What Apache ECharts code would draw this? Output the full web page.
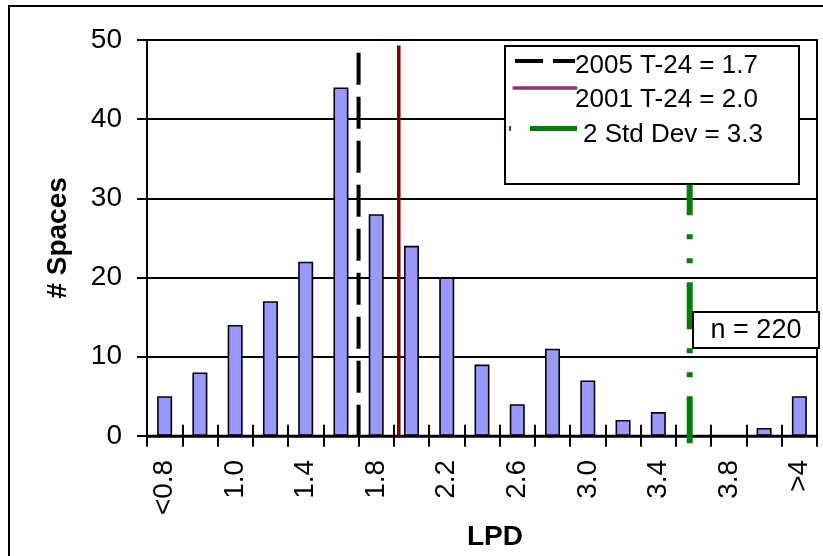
<!DOCTYPE html>
<html>
<head>
<meta charset="utf-8">
<script src="https://cdn.jsdelivr.net/npm/echarts@6/dist/echarts.min.js"></script>
<style>html,body{margin:0;padding:0;background:#fff;}#c{width:823px;height:556px;}</style>
</head>
<body>
<div id="c"></div>
<script>
// ---- data ----
const categories = ['<0.8','0.8','1.0','1.2','1.4','1.6','1.8','2.0','2.2','2.4','2.6','2.8','3.0','3.2','3.4','3.6','3.8','4.0','>4'];
const counts = [5, 8, 14, 17, 22, 44, 28, 24, 20, 9, 4, 11, 7, 2, 3, 0, 0, 1, 5];
const refNames = ['2005 T-24 = 1.7', '2001 T-24 = 2.0', '2 Std Dev = 3.3'];
// reference line positions in category-index units, with their vertical extents
const refPositions = [5.5, 6.64, 14.89];
const refStarts = [48.4, 49.3, -0.95];
const refEnds = [0, -0.1, 46];
const sampleSize = 'n = 220';

const FONT = 'Liberation Sans, Arial, sans-serif';
const chart = echarts.init(document.getElementById('c'), null, {renderer: 'canvas'});

const refStyles = [
  {color: '#000000', width: 4, type: [32, 12]},
  {color: '#800000', width: 3.5, type: 'solid'},
  {color: '#008000', width: 6, type: [47, 19, 5, 19, 5, 19]}
];

const lineSeries = refNames.map((n, i) => ({
  type: 'line',
  name: n,
  xAxisIndex: 2,
  yAxisIndex: 0,
  data: [[refPositions[i], refStarts[i]], [refPositions[i], refEnds[i]]],
  symbol: 'none',
  clip: false,
  silent: true,
  z: 5,
  lineStyle: refStyles[i]
}));

const option = {
  backgroundColor: '#ffffff',
  animation: false,
  textStyle: {fontFamily: FONT},
  grid: {left: 147, right: 6, top: 40, bottom: 120, show: true, borderColor: '#000', borderWidth: 2, backgroundColor: 'transparent'},
  xAxis: [
    {
      type: 'category', data: categories, position: 'bottom',
      axisLine: {show: true, onZero: false, lineStyle: {color: '#000', width: 2.5}},
      axisTick: {show: true, interval: 0, length: 11, lineStyle: {color: '#000', width: 2}},
      axisLabel: {interval: 1, rotate: 90, margin: 24, fontSize: 28, color: '#000', fontFamily: FONT},
      splitLine: {show: false},
      name: 'LPD', nameLocation: 'middle', nameGap: 77,
      nameTextStyle: {fontSize: 28, fontWeight: 'bold', color: '#000', fontFamily: FONT, padding: [0, 0, 0, 26]}
    },
    {
      type: 'category', data: categories, position: 'bottom',
      axisLine: {show: false, onZero: false},
      axisTick: {show: true, inside: true, interval: 0, length: 11, lineStyle: {color: '#000', width: 2}},
      axisLabel: {show: false},
      splitLine: {show: false}
    },
    {type: 'value', min: -0.5, max: 18.5, show: false}
  ],
  yAxis: {
    type: 'value', min: 0, max: 50, interval: 10,
    axisLine: {show: true, onZero: false, lineStyle: {color: '#000', width: 2}},
    axisTick: {show: true, length: 10, lineStyle: {color: '#000', width: 2}},
    axisLabel: {fontSize: 28, color: '#000', margin: 25, fontFamily: FONT},
    splitLine: {show: true, lineStyle: {color: '#000', width: 1.8}},
    name: '# Spaces', nameLocation: 'middle', nameGap: 75, nameRotate: 90,
    nameTextStyle: {fontSize: 28, fontWeight: 'bold', color: '#000', fontFamily: FONT}
  },
  series: [
    {
      type: 'bar', data: counts, xAxisIndex: 0, barWidth: 15, z: 2,
      itemStyle: {color: '#9999FF', borderColor: '#000', borderWidth: 1.6},
      silent: true
    }
  ].concat(lineSeries),
  graphic: [
    {type: 'rect', silent: true, z: 0, shape: {x: 9, y: 6, width: 900, height: 700}, style: {fill: 'none', stroke: '#000', lineWidth: 2}},
    {type: 'rect', z: 100, shape: {x: 505, y: 46, width: 294, height: 138}, style: {fill: '#fff', stroke: '#000', lineWidth: 2}},
    {type: 'line', z: 101, shape: {x1: 515, y1: 61, x2: 575, y2: 61}, style: {stroke: '#000', lineWidth: 4, lineDash: [28, 10]}},
    {type: 'line', z: 101, shape: {x1: 514, y1: 88, x2: 576, y2: 88}, style: {stroke: '#993366', lineWidth: 3.5, lineCap: 'round'}},
    {type: 'line', z: 101, shape: {x1: 577, y1: 128.5, x2: 509, y2: 128.5}, style: {stroke: '#008000', lineWidth: 5, lineDash: [47, 19, 5, 19, 5, 19]}},
    {type: 'text', z: 101, style: {text: refNames[0], x: 575, y: 66, font: '26px ' + FONT, fill: '#000', align: 'left', verticalAlign: 'middle'}},
    {type: 'text', z: 101, style: {text: refNames[1], x: 575, y: 100, font: '26px ' + FONT, fill: '#000', align: 'left', verticalAlign: 'middle'}},
    {type: 'text', z: 101, style: {text: refNames[2], x: 583, y: 134.5, font: '26px ' + FONT, fill: '#000', align: 'left', verticalAlign: 'middle'}},
    {type: 'rect', z: 100, shape: {x: 693, y: 312, width: 126, height: 36}, style: {fill: '#fff', stroke: '#000', lineWidth: 2}},
    {type: 'text', z: 101, style: {text: sampleSize, x: 756, y: 331, font: '27px ' + FONT, fill: '#000', align: 'center', verticalAlign: 'middle'}}
  ]
};
chart.setOption(option);
</script>
</body>
</html>
